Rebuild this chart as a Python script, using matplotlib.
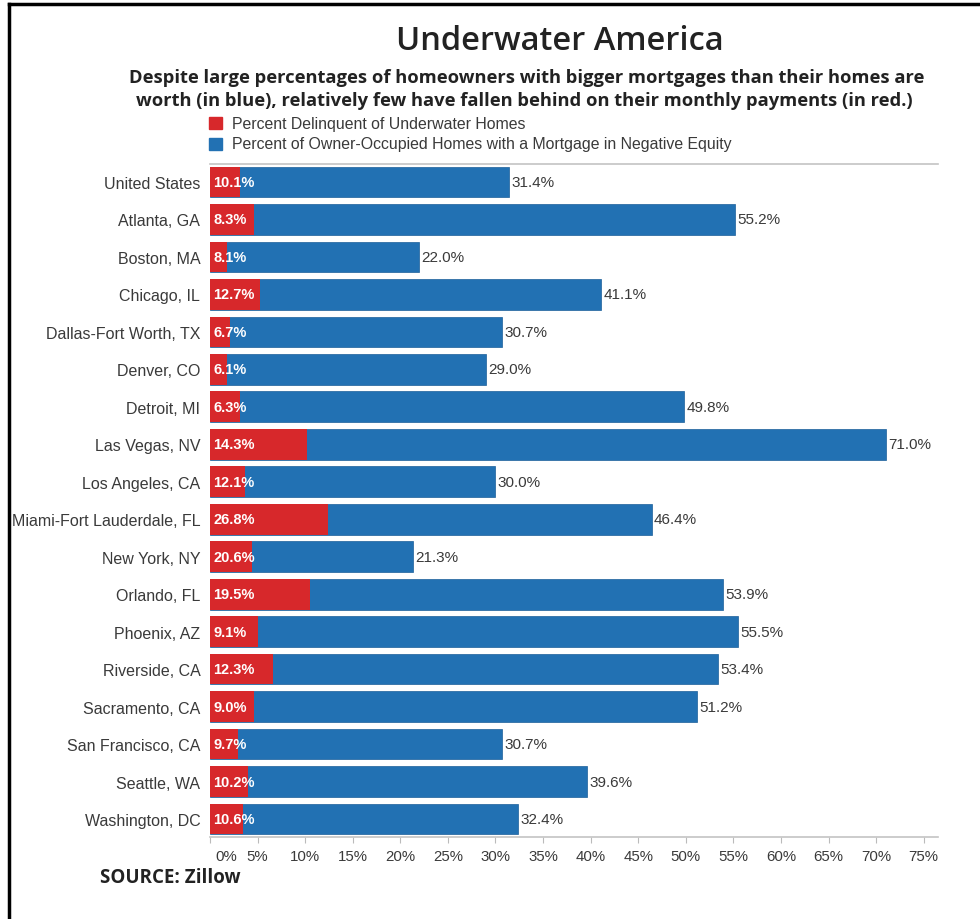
import matplotlib
matplotlib.use('Agg')
import matplotlib.pyplot as plt
from matplotlib.patches import Rectangle
from matplotlib.lines import Line2D
from matplotlib.transforms import ScaledTranslation

# Data
places = ['United States', 'Atlanta, GA', 'Boston, MA', 'Chicago, IL',
          'Dallas-Fort Worth, TX', 'Denver, CO', 'Detroit, MI', 'Las Vegas, NV',
          'Los Angeles, CA', 'Miami-Fort Lauderdale, FL', 'New York, NY',
          'Orlando, FL', 'Phoenix, AZ', 'Riverside, CA', 'Sacramento, CA',
          'San Francisco, CA', 'Seattle, WA', 'Washington, DC']
underwater = [31.4, 55.2, 22.0, 41.1, 30.7, 29.0, 49.8, 71.0, 30.0, 46.4,
              21.3, 53.9, 55.5, 53.4, 51.2, 30.7, 39.6, 32.4]
delinquent = [10.1, 8.3, 8.1, 12.7, 6.7, 6.1, 6.3, 14.3, 12.1, 26.8,
              20.6, 19.5, 9.1, 12.3, 9.0, 9.7, 10.2, 10.6]
ticks = list(range(0, 80, 5))

RED = '#d7282b'
BLUE = '#2271b3'
TXT = '#3a3a3a'
SANS = ['Liberation Sans', 'DejaVu Sans']
HEAD = ['Open Sans', 'DejaVu Sans']

# red part is the delinquent share of the underwater homes
red_len = [d * u / 100 for d, u in zip(delinquent, underwater)]

fig = plt.figure(figsize=(9.8, 9.2), dpi=100)
ax = fig.add_axes([210 / 980, 1 - 838 / 920, 728 / 980, 673 / 920])

y = list(range(len(places)))
ax.barh(y, underwater, height=0.82, color=BLUE, edgecolor='#1b5f99', linewidth=0.5)
ax.barh(y, red_len, height=0.82, color=RED, linewidth=0)

for i in y:
    ax.text(0.35, i, f'{delinquent[i]:.1f}%', color='white', fontweight='bold',
            fontsize=10.5, va='center', ha='left', family=SANS)
    ax.text(underwater[i] + 0.25, i, f'{underwater[i]:.1f}%', color=TXT,
            fontsize=11, va='center', ha='left', family=SANS)

ax.set_xlim(0, 76.5)
ax.set_ylim(len(places) - 0.52, -0.48)
ax.set_yticks(y)
ax.set_yticklabels(places, fontsize=11.5, color=TXT, family=SANS)
ax.tick_params(axis='y', length=0, pad=7)
ax.set_xticks(ticks)
ax.set_xticklabels([f'{t}%' for t in ticks], fontsize=10.8, color=TXT, family=SANS)
ax.tick_params(axis='x', length=4, color='#bbbbbb', pad=5)
lab0 = ax.xaxis.get_major_ticks()[0].label1
lab0.set_transform(lab0.get_transform() + ScaledTranslation(0.16, 0, fig.dpi_scale_trans))

for s in ['left', 'right']:
    ax.spines[s].set_visible(False)
for s in ['top', 'bottom']:
    ax.spines[s].set_color('#c4c4c4')
    ax.spines[s].set_linewidth(1.2)

# titles
fig.text(560 / 980, 1 - 42 / 920, 'Underwater America', fontsize=23.5, fontweight='semibold',
         ha='center', va='center', color='#222222', family=HEAD)
fig.text(527 / 980, 1 - 78 / 920,
         'Despite large percentages of homeowners with bigger mortgages than their homes are',
         fontsize=13.2, fontweight='bold', ha='center', va='center', color='#222222', family=HEAD)
fig.text(524 / 980, 1 - 101 / 920,
         'worth (in blue), relatively few have fallen behind on their monthly payments (in red.)',
         fontsize=13.2, fontweight='bold', ha='center', va='center', color='#222222', family=HEAD)

# legend
for yy, col, lab in [(124, RED, 'Percent Delinquent of Underwater Homes'),
                     (145, BLUE, 'Percent of Owner-Occupied Homes with a Mortgage in Negative Equity')]:
    fig.patches.append(Rectangle((209 / 980, 1 - (yy + 6) / 920), 13 / 980, 12 / 920,
                                 transform=fig.transFigure, color=col))
    fig.text(232 / 980, 1 - yy / 920, lab, fontsize=11.4, color=TXT, va='center',
             ha='left', family=SANS)

fig.text(100 / 980, 1 - 878 / 920, 'SOURCE: Zillow', fontsize=13.5, fontweight='bold',
         color='#222222', va='center', ha='left', family=HEAD)

# black frame on the left and top edge
fig.lines.append(Line2D([9 / 980, 9 / 980], [0, 1 - 5 / 920], transform=fig.transFigure,
                        color='black', linewidth=2.5))
fig.lines.append(Line2D([9 / 980, 1], [1 - 5 / 920, 1 - 5 / 920], transform=fig.transFigure,
                        color='black', linewidth=2.5))

fig.savefig('out.png', dpi=100)
